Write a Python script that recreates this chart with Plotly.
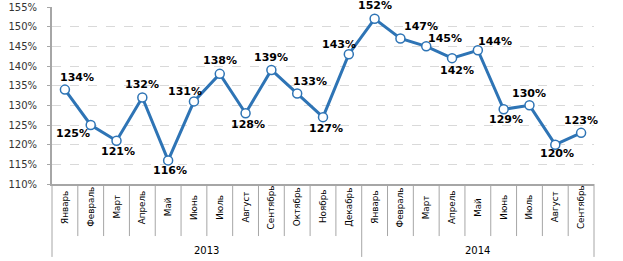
import plotly.graph_objects as go

months = ["Январь", "Февраль", "Март", "Апрель", "Май", "Июнь", "Июль", "Август",
          "Сентябрь", "Октябрь", "Ноябрь", "Декабрь",
          "Январь", "Февраль", "Март", "Апрель", "Май", "Июнь", "Июль", "Август", "Сентябрь"]
years = ["2013"] * 12 + ["2014"] * 9
values = [134, 125, 121, 132, 116, 131, 138, 128, 139, 133, 127, 143,
          152, 147, 145, 142, 144, 129, 130, 120, 123]
y_ticks = [110, 115, 120, 125, 130, 135, 140, 145, 150, 155]

# label offsets in pixels (dx right, dy down)
label_offsets = [(12, -12), (-18, 8), (1, 11), (0, -13), (2, 10), (-9, -10), (0, -13),
                 (2, 11), (0, -12), (13, -12), (3, 11), (-10, -10), (0, -13), (21, -12),
                 (19, -8), (5, 12), (17, -9), (2, 10), (0, -12), (2, 9), (0, -12)]

n = len(months)
xs = list(range(n))
blue = "#2e74b5"
axis_col = "#a6a6a6"
font = "DejaVu Sans"

fig = go.Figure()
fig.add_trace(go.Scatter(
    x=xs, y=values, mode="lines+markers",
    line=dict(color=blue, width=3),
    marker=dict(size=9, color="white", line=dict(color=blue, width=1.5)),
    hoverinfo="skip", cliponaxis=False,
))

annotations = []
for i, v in enumerate(values):
    dx, dy = label_offsets[i]
    annotations.append(dict(
        x=xs[i], y=v, xref="x", yref="y", text=f"<b>{v}%</b>", showarrow=False,
        xshift=dx, yshift=-dy, font=dict(family=font, size=11, color="#000000"),
        xanchor="center", yanchor="middle"))

for i, m in enumerate(months):
    annotations.append(dict(
        x=xs[i], y=-0.13, xref="x", yref="paper", text=m, showarrow=False,
        textangle=-90, font=dict(family=font, size=8.8, color="#000000"),
        xanchor="center", yanchor="middle"))

# year groups
groups = []
for i, yv in enumerate(years):
    if not groups or groups[-1][0] != yv:
        groups.append([yv, i, i])
    else:
        groups[-1][2] = i
for yv, a, b in groups:
    annotations.append(dict(
        x=(a + b) / 2, y=-0.373, xref="x", yref="paper", text=yv, showarrow=False,
        font=dict(family=font, size=10, color="#000000"),
        xanchor="center", yanchor="middle"))

shapes = []
bounds = set()
for yv, a, b in groups:
    bounds.add(a)
    bounds.add(b + 1)
for i in range(0, n + 1):
    xp = i / n
    y1 = -0.412 if i in bounds else -0.294
    shapes.append(dict(type="line", xref="paper", yref="paper", x0=xp, x1=xp,
                       y0=0, y1=y1, line=dict(color=axis_col, width=1)))

fig.update_layout(
    width=623, height=261,
    margin=dict(l=52, r=29, t=7, b=77),
    plot_bgcolor="white", paper_bgcolor="white",
    showlegend=False,
    annotations=annotations, shapes=shapes,
    xaxis=dict(range=[-0.5, n - 0.5], showticklabels=False, showgrid=False,
               zeroline=False, showline=True, linecolor=axis_col, linewidth=1.5,
               ticks="", fixedrange=True, automargin=False),
    yaxis=dict(range=[110, 155], tickvals=y_ticks,
               ticktext=[f"{t}%" for t in y_ticks],
               showgrid=True, gridcolor="#d9d9d9", griddash="dash", gridwidth=1,
               zeroline=False, showline=True, linecolor=axis_col, linewidth=2,
               ticks="outside", ticklen=3, tickcolor=axis_col,
               ticklabelstandoff=8, automargin=False,
               tickfont=dict(family=font, size=10, color="#333333"),
               fixedrange=True),
)

fig.write_html("out.html", config={"displayModeBar": False},
               post_script="document.body.style.margin='0';document.body.style.overflow='hidden';")
